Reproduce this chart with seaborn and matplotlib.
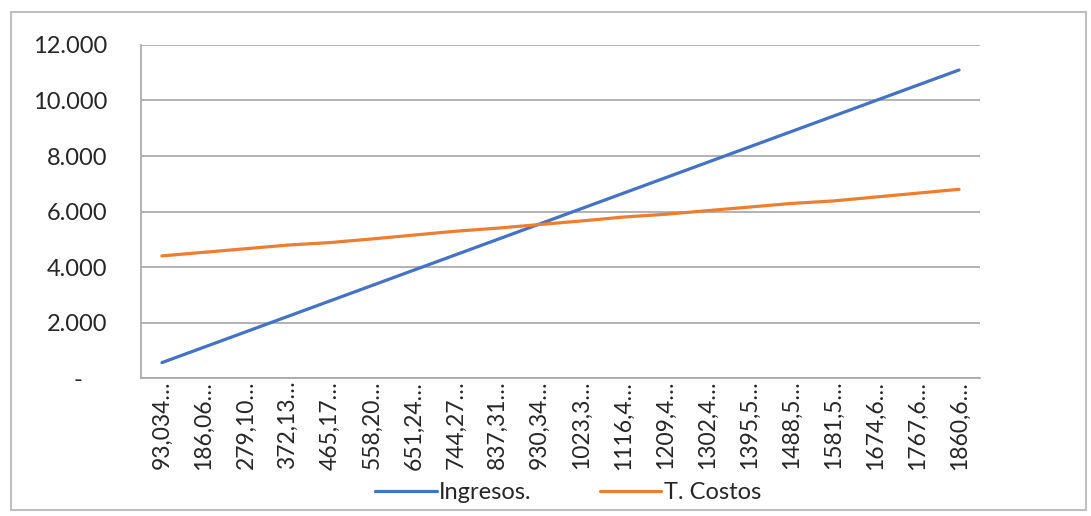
import matplotlib.pyplot as plt
import matplotlib.patches as mpatches
import matplotlib.ticker as mticker
import numpy as np
import pandas as pd
import seaborn as sns

# Data
categorias = ['93,034…', '186,06…', '279,10…', '372,13…', '465,17…',
              '558,20…', '651,24…', '744,27…', '837,31…', '930,34…',
              '1023,3…', '1116,4…', '1209,4…', '1302,4…', '1395,5…',
              '1488,5…', '1581,5…', '1674,6…', '1767,6…', '1860,6…']
ingresos = [555, 1110, 1665, 2220, 2775, 3330, 3885, 4440, 4995, 5550,
            6105, 6660, 7215, 7770, 8325, 8880, 9435, 9990, 10545, 11100]
costos = [4400, 4530, 4660, 4790, 4880, 5010, 5150, 5290, 5400, 5530,
          5660, 5800, 5900, 6030, 6160, 6290, 6380, 6520, 6660, 6800]

sns.set_style('white')
plt.rcParams['font.family'] = ['Lato', 'DejaVu Sans']

n = len(categorias)
df = pd.DataFrame({
    'pos': list(range(n)) * 2,
    'valor': ingresos + costos,
    'serie': ['Ingresos.'] * n + ['T. Costos'] * n,
})

fig = plt.figure(figsize=(10.91, 5.16), dpi=100)
ax = fig.add_axes([0.1292, 0.2674, 0.7691, 0.6454])

sns.lineplot(data=df, x='pos', y='valor', hue='serie', ax=ax,
             palette=['#4472C4', '#ED7D31'], linewidth=2.3)

gris = '#A6A6A6'
texto = '#262626'

ax.set_xlim(-0.5, n - 0.5)
ax.set_ylim(0, 12000)
ax.set_xlabel('')
ax.set_ylabel('')

# Excel accounting style: zero shown as a dash
ax.yaxis.set_major_locator(mticker.MultipleLocator(2000))
ax.yaxis.set_major_formatter(mticker.FuncFormatter(
    lambda v, p: '-    ' if v == 0 else f'{v:,.0f}'.replace(',', '.')))
ax.grid(axis='y', color=gris, linewidth=1.2)
ax.set_axisbelow(True)

ax.set_xticks(range(n))
ax.set_xticklabels(categorias, rotation=90)
ax.set_xticks(np.arange(-0.5, n, 1), minor=True)
ax.tick_params(axis='x', which='major', length=0, pad=2,
               labelsize=16.5, labelcolor=texto)
ax.tick_params(axis='x', which='minor', length=7, width=1.2, color=gris,
               direction='out')
ax.tick_params(axis='y', length=6.5, width=1.2, color=gris, direction='out',
               labelsize=17, labelcolor=texto, pad=18)

for s in ['top', 'right']:
    ax.spines[s].set_visible(False)
for s in ['left', 'bottom']:
    ax.spines[s].set_color(gris)
    ax.spines[s].set_linewidth(1.2)

sns.move_legend(ax, 'center', bbox_to_anchor=(0.509, -0.345), ncol=2,
                title=None, frameon=False, fontsize=17, handlelength=2.6,
                columnspacing=2.9, handletextpad=0.1)
for t in ax.get_legend().get_texts():
    t.set_color(texto)

# chart border
fig.patches.append(mpatches.Rectangle(
    (0.0101, 0.012), 0.985, 0.965, transform=fig.transFigure,
    fill=False, edgecolor='#BFBFBF', linewidth=1.5))

fig.savefig('out.png', dpi=100)
